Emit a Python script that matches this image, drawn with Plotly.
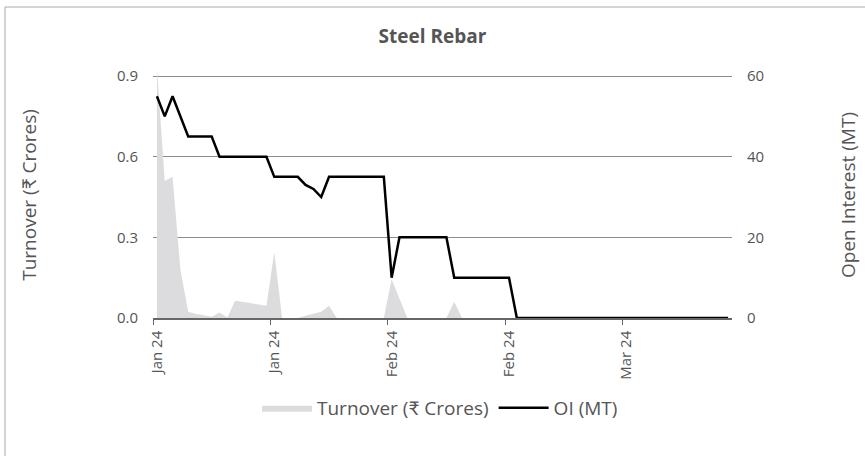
import pandas as pd
import plotly.graph_objects as go

# ---- data ----
dates = pd.date_range("2024-01-10", periods=74).strftime("%Y-%m-%d").tolist()

turnover = [0.93, 0.51, 0.525, 0.18, 0.023, 0.015, 0.01, 0.005, 0.02, 0.002,
            0.064, 0.06, 0.055, 0.05, 0.046, 0.245, 0.0, 0.0, 0.0, 0.008,
            0.015, 0.023, 0.046, 0.0, 0.0, 0.0, 0.0, 0.0, 0.0, 0.0,
            0.144, 0.07, 0.0, 0.0, 0.0, 0.0, 0.0, 0.0, 0.06, 0.0] + [0.0] * 34

oi = [55, 50, 55, 50, 45, 45, 45, 45, 40, 40,
      40, 40, 40, 40, 40, 35, 35, 35, 35, 33,
      32, 30, 35, 35, 35, 35, 35, 35, 35, 35,
      10, 20, 20, 20, 20, 20, 20, 20, 10, 10,
      10, 10, 10, 10, 10, 10] + [0] * 28

tick_index = [0, 15, 30, 45, 60]
tick_labels = [pd.Timestamp(dates[i]).strftime("%b %y") for i in tick_index]

left_ticks = [0.0, 0.3, 0.6, 0.9]
right_ticks = [0, 20, 40, 60]

# ---- layout constants (pixels) ----
W, H = 865, 456
L, R, T, B = 153, 732, 72, 318
FONT = "'Open Sans', Lato, 'Noto Sans', sans-serif"
TXT = "#555555"

def px_x(p):
    return (p - L) / (R - L)

def px_y(p):
    return (B - p) / (B - T)

fig = go.Figure()
fig.add_trace(go.Scatter(
    x=dates, y=turnover, name="Turnover (₹ Crores)",
    mode="lines", line=dict(width=0, color="#dcdcde"),
    fill="tozeroy", fillcolor="#dcdcde", yaxis="y"))
fig.add_trace(go.Scatter(
    x=dates, y=oi, name="OI (MT)",
    mode="lines", line=dict(width=2.5, color="#000000"), yaxis="y2"))

fig.update_layout(
    width=W, height=H,
    margin=dict(l=L, r=W - R, t=T, b=H - B, autoexpand=False),
    paper_bgcolor="white", plot_bgcolor="white",
    font=dict(family=FONT, color=TXT, size=15),
    title=dict(text="<b>Steel Rebar</b>", x=0.5, xanchor="center",
               y=1 - 36 / H, yanchor="middle",
               font=dict(size=19, color=TXT, family=FONT)),
    showlegend=True,
    legend=dict(orientation="h", x=px_x(440), xanchor="center",
                y=px_y(408), yanchor="middle",
                font=dict(size=19, color=TXT), itemwidth=50,
                bgcolor="rgba(0,0,0,0)"),
    xaxis=dict(type="category", range=[-0.5, len(dates) - 0.5],
               tickmode="array",
               tickvals=[i - 0.5 for i in tick_index], ticktext=tick_labels,
               ticklabelshift=4, tickangle=-90,
               ticks="outside", ticklen=5, tickcolor="#666666", tickwidth=1,
               showgrid=False, showline=True, linecolor="#666666", linewidth=1.5,
               zeroline=False, tickfont=dict(size=15, color=TXT)),
    yaxis=dict(range=[0, 0.915], tickmode="array", tickvals=left_ticks,
               tickformat=".1f", showgrid=True, gridcolor="#8c8c8c", gridwidth=1,
               zeroline=False, showline=False, ticks="", ticklabelstandoff=14,
               tickfont=dict(size=15, color=TXT),
               title=dict(text="Turnover (₹ Crores)", standoff=75,
                          font=dict(size=19, color=TXT))),
    yaxis2=dict(range=[0, 61], overlaying="y", side="right", tickmode="array",
                tickvals=right_ticks, showgrid=False, zeroline=False,
                showline=False, ticks="", ticklabelstandoff=14,
                tickfont=dict(size=15, color=TXT),
                title=dict(text="Open Interest (MT)", standoff=78,
                           font=dict(size=19, color=TXT))),
    shapes=[dict(type="rect", xref="paper", yref="paper",
                 x0=px_x(5), x1=px_x(W + 5), y0=px_y(H + 5), y1=px_y(7),
                 line=dict(color="#aaaaaa", width=1), fillcolor="rgba(0,0,0,0)",
                 layer="below")],
)

fig.write_html("out.html", config={"displayModeBar": False},
               post_script="document.body.style.margin='0';document.body.style.overflow='hidden';")
